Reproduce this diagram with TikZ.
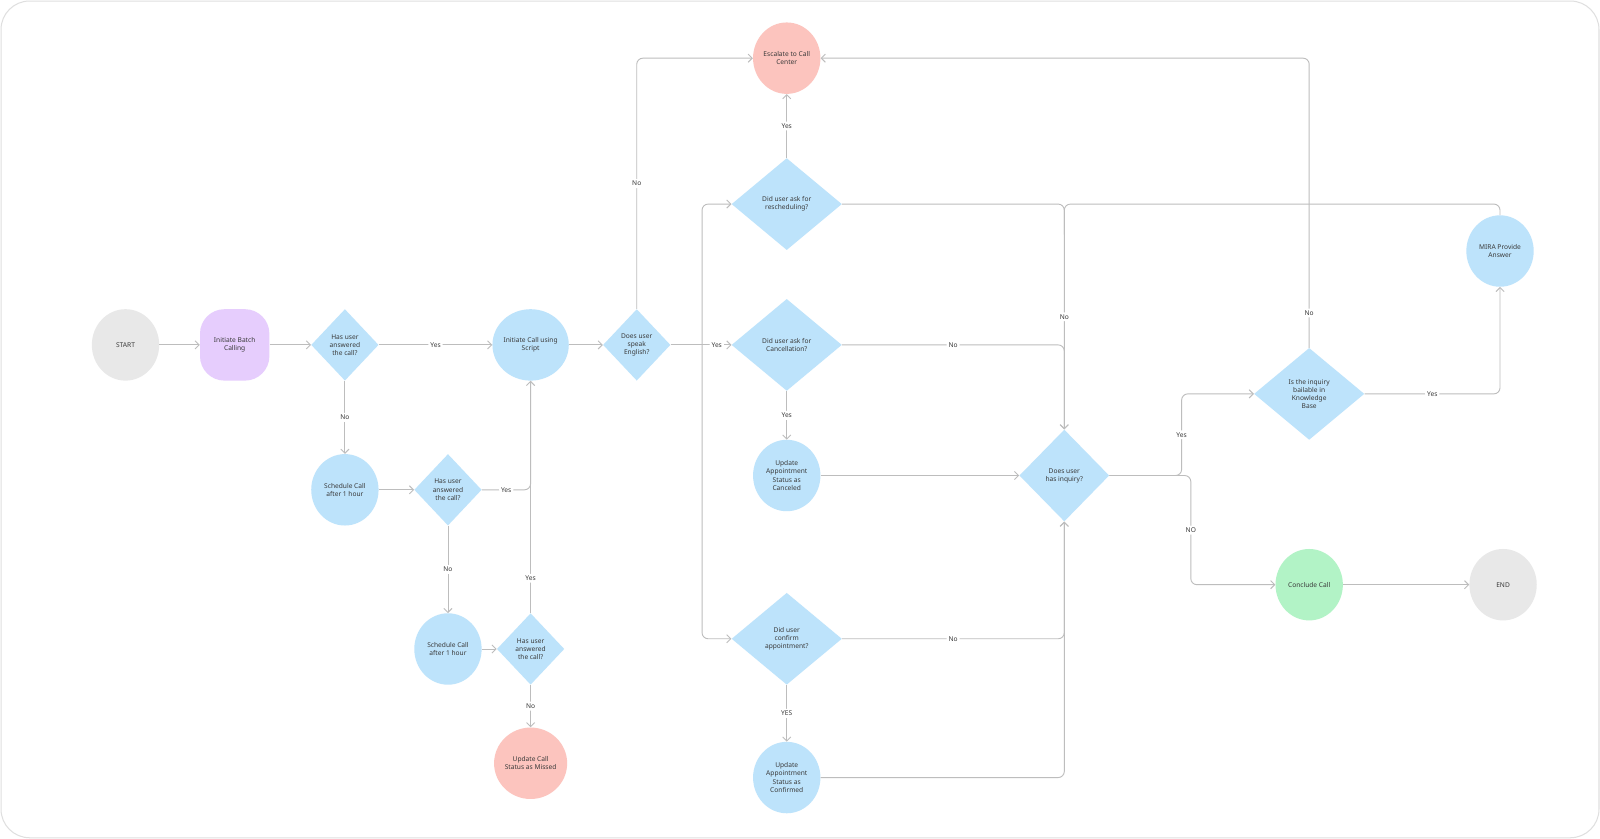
\documentclass[tikz,border=0pt]{standalone}
\usepackage{fontspec}
\setmainfont{Noto Sans}
\usetikzlibrary{shapes.geometric,arrows.meta}
\definecolor{lblue}{HTML}{BDE3FB}
\definecolor{lred}{HTML}{FCC4BE}
\definecolor{lgreen}{HTML}{B2F3C6}
\definecolor{lpurple}{HTML}{E6CDFD}
\definecolor{lgray}{HTML}{E8E8E8}
\definecolor{edge}{HTML}{BDBDBD}
\definecolor{txt}{HTML}{3A3A3A}
\tikzset{
  base/.style={draw=none, text=txt, align=center, inner sep=0pt,
    font=\fontsize{6.5}{8}\selectfont},
  act/.style={base, ellipse, fill=lblue, minimum width=66pt, minimum height=70pt},
  ask/.style={base, diamond, fill=lblue, minimum width=66pt, minimum height=70pt},
  bigask/.style={ask, minimum width=108pt, minimum height=90pt},
  line/.style={draw=edge, line width=0.9pt, rounded corners=6pt},
  flow/.style={line, -{Straight Barb[length=4pt,width=8pt]}},
  lbl/.style={fill=white, text=txt, inner sep=2pt, font=\fontsize{6.5}{8}\selectfont},
}
\begin{document}
\begin{tikzpicture}[x=1pt,y=-1pt]
        \fill[white] (0,0) rectangle (1568,822);
        \draw[gray!25, line width=1pt, rounded corners=28pt] (1,1) rectangle (1567,821);

        % left part
        \node[act, fill=lgray] (start) at (123,338) {START};
        \node[base, fill=lpurple, rounded corners=24pt, minimum width=68pt, minimum height=70pt] (batch) at (230,338) {Initiate Batch\\Calling};
        \node[ask] (ans1) at (338,338) {Has user\\answered\\the call?};
        \node[act] (script) at (520,338) {Initiate Call using\\Script};
        \node[ask] (eng) at (624,338) {Does user\\speak\\English?};
        \node[act] (sched1) at (338,480) {Schedule Call\\after 1 hour};
        \node[ask] (ans2) at (439,480) {Has user\\answered\\the call?};
        \node[act] (sched2) at (439,636) {Schedule Call\\after 1 hour};
        \node[ask] (ans3) at (520,636) {Has user\\answered\\the call?};
        \node[act, fill=lred] (missed) at (520,748) {Update Call\\Status as Missed};

        % middle part
        \node[act, fill=lred] (esc) at (771,57) {Escalate to Call\\Center};
        \node[bigask] (resch) at (771,200) {Did user ask for\\rescheduling?};
        \node[bigask] (cancel) at (771,338) {Did user ask for\\Cancellation?};
        \node[act] (canceled) at (771,466) {Update\\Appointment\\Status as\\Canceled};
        \node[bigask] (confirm) at (771,626) {Did user\\confirm\\appointment?};
        \node[act] (confirmed) at (771,762) {Update\\Appointment\\Status as\\Confirmed};
        \node[ask, minimum width=88pt, minimum height=90pt] (inq) at (1043,466) {Does user\\has inquiry?};

        % right part
        \node[bigask] (kb) at (1283,386) {Is the inquiry\\bailable in\\Knowledge\\Base};
        \node[act] (mira) at (1470,246) {MIRA Provide\\Answer};
        \node[act, fill=lgreen] (conclude) at (1283,573) {Conclude Call};
        \node[act, fill=lgray] (end) at (1473,573) {END};

        \coordinate (split) at (688,338);
        \coordinate (merge) at (1043,200);

        \draw[flow] (start) -- (batch);
        \draw[flow] (batch) -- (ans1);
        \draw[flow] (ans1) -- node[lbl] {Yes} (script);
        \draw[flow] (ans1) -- node[lbl] {No} (sched1);
        \draw[flow] (sched1) -- (ans2);
        \draw[line] (ans2) -- node[lbl] {Yes} (520,480) -- (script);
        \draw[flow] (ans3) -- node[lbl, pos=0.15] {Yes} (script);
        \draw[flow] (ans2) -- node[lbl] {No} (sched2);
        \draw[flow] (sched2) -- (ans3);
        \draw[flow] (ans3) -- node[lbl] {No} (missed);
        \draw[flow] (script) -- (eng);
        \draw[flow] (eng) -- node[lbl, pos=0.5] {No} (624,57) -- (esc);

        \draw[line] (eng) -- (split);
        \draw[flow] (split) |- (resch);
        \draw[flow] (split) -- node[lbl] {Yes} (cancel);
        \draw[flow] (split) |- (confirm);

        \draw[flow] (resch) -- node[lbl] {Yes} (esc);
        \draw[flow] (resch) -| node[lbl, pos=0.75] {No} (inq);
        \draw[flow] (cancel) -- node[lbl] {No} (1043,338) -- (inq);
        \draw[flow] (cancel) -- node[lbl] {Yes} (canceled);
        \draw[flow] (canceled) -- (inq);
        \draw[flow] (confirm) -- node[lbl] {No} (1043,626) -- (inq);
        \draw[flow] (confirm) -- node[lbl] {YES} (confirmed);
        \draw[flow] (confirmed) -| (inq);

        \draw[flow] (inq) -- (1158,466) -- node[lbl] {Yes} (1158,386) -- (kb);
        \draw[flow] (inq) -- (1167,466) -- node[lbl] {NO} (1167,573) -- (conclude);
        \draw[flow] (kb) -- node[lbl] {Yes} (1470,386) -- (mira);
        \draw[flow] (kb) -- node[lbl, pos=0.12] {No} (1283,57) -- (esc);
        \draw[line] (mira) -- (1470,200) -- (merge) -- (1043,230);
        \draw[flow] (conclude) -- (end);
\end{tikzpicture}
\end{document}
